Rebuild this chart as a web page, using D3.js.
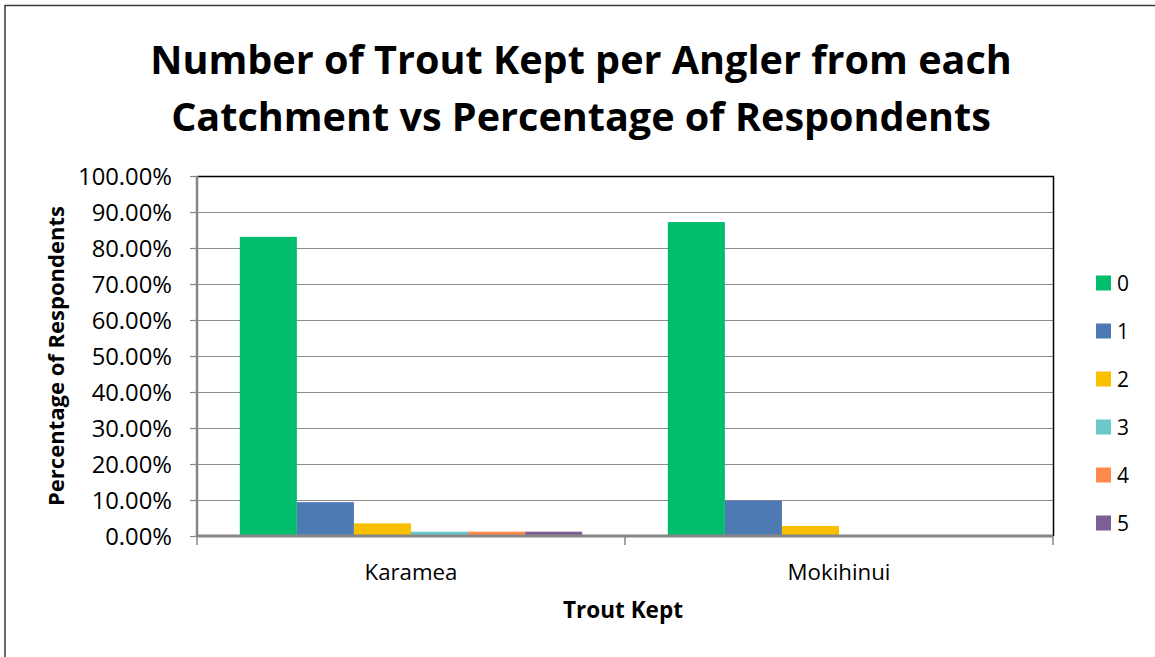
<!DOCTYPE html>
<html>
<head>
<meta charset="utf-8">
<script src="https://cdn.jsdelivr.net/npm/d3@7"></script>
<style>
  html, body { margin: 0; padding: 0; background: #fff; }
  svg { display: block; }
  text { font-family: "Open Sans", "Noto Sans", sans-serif; fill: #000; }
</style>
</head>
<body>
<svg id="chart" width="1155" height="657"></svg>
<script>
const categories = ["Karamea", "Mokihinui"];
const seriesNames = ["0", "1", "2", "3", "4", "5"];
const seriesColors = ["#00BE6E", "#4E7AB4", "#F9C000", "#6CC7CA", "#FF8A4C", "#7D5F96"];
// percentage of respondents, by catchment, for each series (trout kept)
const karameaValues = [83.1, 9.4, 3.5, 1.2, 1.2, 1.2];
const mokihinuiValues = [87.2, 9.8, 2.8, 0, 0, 0];
const yTicks = [0, 10, 20, 30, 40, 50, 60, 70, 80, 90, 100];
const titleLines = ["Number of Trout Kept per Angler from each", "Catchment vs Percentage of Respondents"];
const xTitle = "Trout Kept";
const yTitle = "Percentage of Respondents";

const valuesByCategory = [karameaValues, mokihinuiValues];
const data = categories.map((c, i) => ({
  category: c,
  values: seriesNames.map((s, j) => ({ series: s, value: valuesByCategory[i][j] }))
}));

const svg = d3.select("#chart");
const W = 1155, H = 657;
const plot = { left: 197, right: 1053, top: 176, bottom: 536 };

// outer frame
svg.append("rect").attr("x", 5).attr("y", 5.5).attr("width", W + 10).attr("height", H + 10)
  .attr("fill", "none").attr("stroke", "#3a3a3a").attr("stroke-width", 1.5);

function fitWidth(sel, target) {
  const fs = parseFloat(sel.attr("font-size"));
  const w = sel.node().getComputedTextLength();
  const nfs = fs * target / w;
  sel.attr("font-size", nfs.toFixed(2));
  return nfs;
}

// title
const titleBaselines = [74, 131];
const titleWidths = [862, 820];
titleLines.forEach((t, i) => {
  const el = svg.append("text").attr("x", 581).attr("y", titleBaselines[i])
    .attr("text-anchor", "middle").attr("font-weight", "bold").attr("font-size", 40).text(t);
  fitWidth(el, titleWidths[i]);
});

const x0 = d3.scaleBand().domain(categories).range([plot.left, plot.right]).paddingInner(0).paddingOuter(0);
// Excel gap width 150%: group occupies 6/(6+1.5) of category
const groupFrac = 6 / 7.5;
const x1 = d3.scaleBand().domain(seriesNames)
  .range([0, x0.bandwidth() * groupFrac]).padding(0);
const groupOffset = x0.bandwidth() * (1 - groupFrac) / 2;
const y = d3.scaleLinear().domain([0, 100]).range([plot.bottom, plot.top]);
const color = d3.scaleOrdinal().domain(seriesNames).range(seriesColors);

// gridlines
svg.append("g").selectAll("line").data(yTicks.filter(d => d > 0 && d < 100)).join("line")
  .attr("x1", plot.left).attr("x2", plot.right)
  .attr("y1", d => Math.round(y(d)) + 0.5).attr("y2", d => Math.round(y(d)) + 0.5)
  .attr("stroke", "#8c8c8c").attr("stroke-width", 1.2);

// plot border top/right
svg.append("path")
  .attr("d", `M${plot.left},${plot.top + 0.5}H${plot.right + 0.5}V${plot.bottom}`)
  .attr("fill", "none").attr("stroke", "#000").attr("stroke-width", 1.5);

// bars
svg.append("g").selectAll("g").data(data).join("g")
  .attr("transform", d => `translate(${x0(d.category) + groupOffset},0)`)
  .selectAll("rect").data(d => d.values).join("rect")
  .attr("x", d => x1(d.series)).attr("width", x1.bandwidth())
  .attr("y", d => y(d.value)).attr("height", d => y(0) - y(d.value))
  .attr("fill", d => color(d.series));

// y axis
const yAxis = d3.axisLeft(y).tickValues(yTicks).tickSize(7).tickPadding(18)
  .tickFormat(d => d.toFixed(2) + "%");
const gy = svg.append("g").attr("transform", `translate(${plot.left},0)`).call(yAxis);
gy.select(".domain").attr("stroke", "#868686").attr("stroke-width", 2.5).attr("d", `M0,${plot.top}V${plot.bottom}`);
gy.selectAll(".tick line").attr("stroke", "#868686").attr("stroke-width", 1.2);
const yLabels = gy.selectAll(".tick text").attr("font-family", "'Open Sans', sans-serif").attr("font-size", 20)
  .attr("fill", "#000").attr("dy", "0.36em");
const topLabel = yLabels.filter(d => d === 100);
const yfs = fitWidth(topLabel, 94);
yLabels.attr("font-size", yfs.toFixed(2));

// x axis
const xAxis = d3.axisBottom(x0).tickSize(0).tickPadding(0);
const gx = svg.append("g").attr("transform", `translate(0,${plot.bottom})`).call(xAxis);
gx.select(".domain").attr("stroke", "#868686").attr("stroke-width", 3).attr("d", `M${plot.left},0H${plot.right}`);
const xLabels = gx.selectAll(".tick text").attr("font-family", "'Open Sans', sans-serif").attr("font-size", 20)
  .attr("fill", "#000").attr("dy", 0).attr("y", 44);
const xfs = fitWidth(xLabels.filter(d => d === "Karamea"), 93);
xLabels.attr("font-size", xfs.toFixed(2));
// category boundary ticks
gx.append("g").selectAll("line").data([plot.left, plot.left + x0.bandwidth(), plot.right]).join("line")
  .attr("x1", d => d).attr("x2", d => d).attr("y1", 0).attr("y2", 9)
  .attr("stroke", "#868686").attr("stroke-width", 1.5);

// axis titles
const xt = svg.append("text").attr("x", 623).attr("y", 618).attr("text-anchor", "middle")
  .attr("font-weight", "bold").attr("font-size", 20).text(xTitle);
fitWidth(xt, 120);
const yt = svg.append("text").attr("transform", `translate(64,356) rotate(-90)`).attr("text-anchor", "middle")
  .attr("font-weight", "bold").attr("font-size", 20).text(yTitle);
fitWidth(yt, 300);

// legend
const legend = svg.append("g").selectAll("g").data(seriesNames).join("g")
  .attr("transform", (d, i) => `translate(1096,${283 + i * 48})`);
legend.append("rect").attr("x", 0).attr("y", -7.5).attr("width", 15).attr("height", 15)
  .attr("fill", d => color(d));
legend.append("text").attr("x", 21).attr("y", 0).attr("dy", "0.36em").attr("font-size", 21).text(d => d);
</script>
</body>
</html>
